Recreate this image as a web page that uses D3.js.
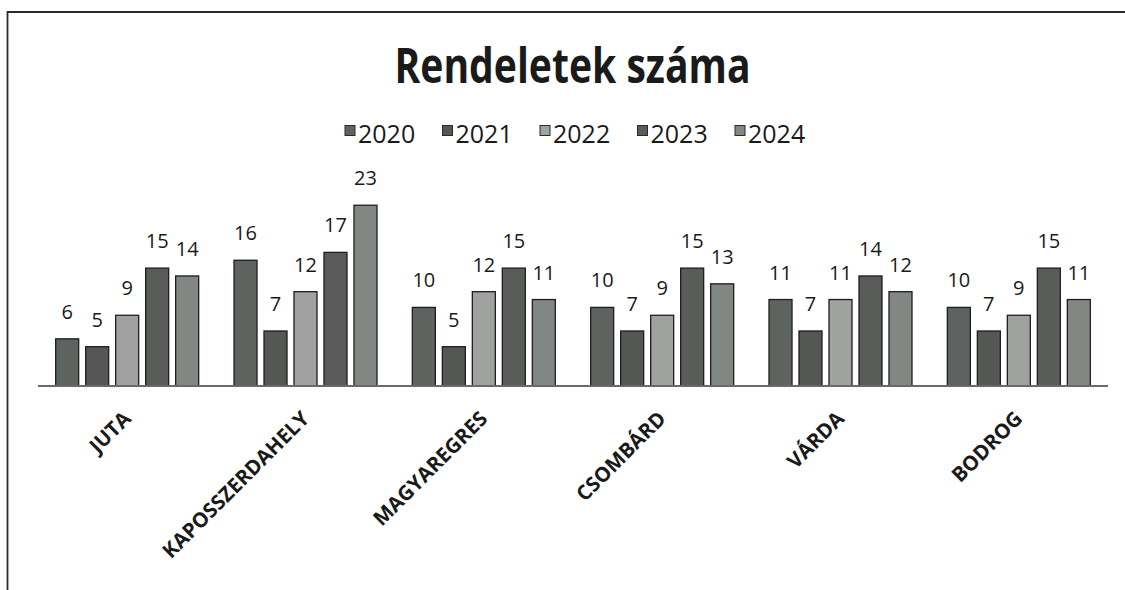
<!DOCTYPE html>
<html>
<head>
<meta charset="utf-8">
<script src="https://cdn.jsdelivr.net/npm/d3@7"></script>
<style>
  html, body { margin: 0; padding: 0; background: #ffffff; }
  svg { display: block; }
  text { font-family: "Open Sans", "Noto Sans", sans-serif; fill: #1a1a1a; }
</style>
</head>
<body>
<svg id="chart" width="1125" height="590"></svg>
<script>
// ---- data ----
const categories = ["JUTA", "KAPOSSZERDAHELY", "MAGYAREGRES", "CSOMBÁRD", "VÁRDA", "BODROG"];
const years = ["2020", "2021", "2022", "2023", "2024"];
const v2020 = [6, 16, 10, 10, 11, 10];
const v2021 = [5, 7, 5, 7, 7, 7];
const v2022 = [9, 12, 12, 9, 11, 9];
const v2023 = [15, 17, 15, 15, 14, 15];
const v2024 = [14, 23, 11, 13, 12, 11];
const seriesValues = [v2020, v2021, v2022, v2023, v2024];
const colors = ["#5f6360", "#545754", "#9fa29f", "#595c59", "#838784"];
const title = "Rendeletek száma";

// ---- layout ----
const svg = d3.select("#chart");
const x0 = d3.scaleBand().domain(categories).range([38, 1108]).paddingInner(0).paddingOuter(0);
const innerPad = 17.67;
const x1 = d3.scaleBand().domain(years)
  .range([innerPad, x0.bandwidth() - innerPad])
  .paddingInner(0.233).paddingOuter(0);
const y = d3.scaleLinear().domain([0, 25]).range([386, 386 - 25 * 7.86]);

// frame
svg.append("path")
  .attr("d", "M7.5,590 L7.5,12 L1125,12")
  .attr("fill", "none").attr("stroke", "#2a2a2a").attr("stroke-width", 1.8);

// title
svg.append("text")
  .attr("x", 572.5).attr("y", 83)
  .attr("text-anchor", "middle")
  .attr("font-size", 48).attr("font-weight", 700)
  .attr("textLength", 356).attr("lengthAdjust", "spacingAndGlyphs")
  .text(title);

// legend
const legendX = d3.scalePoint().domain(years).range([345, 735]);
const lg = svg.append("g");
years.forEach((yr, i) => {
  const gx = legendX(yr);
  lg.append("rect").attr("x", gx).attr("y", 125.5).attr("width", 10).attr("height", 10)
    .attr("fill", colors[i]).attr("stroke", "#2a2a2a").attr("stroke-width", 1);
  lg.append("text").attr("x", gx + 13).attr("y", 143)
    .attr("font-size", 25).text(yr);
});

// bars
const groups = svg.append("g").selectAll("g")
  .data(categories).join("g")
  .attr("transform", d => `translate(${x0(d)},0)`);

years.forEach((yr, si) => {
  groups.append("rect")
    .attr("x", x1(yr))
    .attr("width", x1.bandwidth())
    .attr("y", (d, ci) => y(seriesValues[si][ci]))
    .attr("height", (d, ci) => y(0) - y(seriesValues[si][ci]))
    .attr("fill", colors[si])
    .attr("stroke", "#1e1e1e").attr("stroke-width", 1.3);
  groups.append("text")
    .attr("x", x1(yr) + x1.bandwidth() / 2)
    .attr("y", (d, ci) => y(seriesValues[si][ci]) - 20)
    .attr("text-anchor", "middle")
    .attr("font-size", 20)
    .text((d, ci) => seriesValues[si][ci]);
});

// axis baseline
svg.append("line")
  .attr("x1", 38).attr("x2", 1108).attr("y1", y(0)).attr("y2", y(0))
  .attr("stroke", "#6a6a6a").attr("stroke-width", 2);

// category labels
svg.append("g").selectAll("text")
  .data(categories).join("text")
  .attr("transform", d => `translate(${x0(d) + x0.bandwidth() / 2 + 5},420) rotate(-45)`)
  .attr("text-anchor", "end")
  .attr("font-size", 20.5).attr("font-weight", 700)
  .text(d => d);
</script>
</body>
</html>
